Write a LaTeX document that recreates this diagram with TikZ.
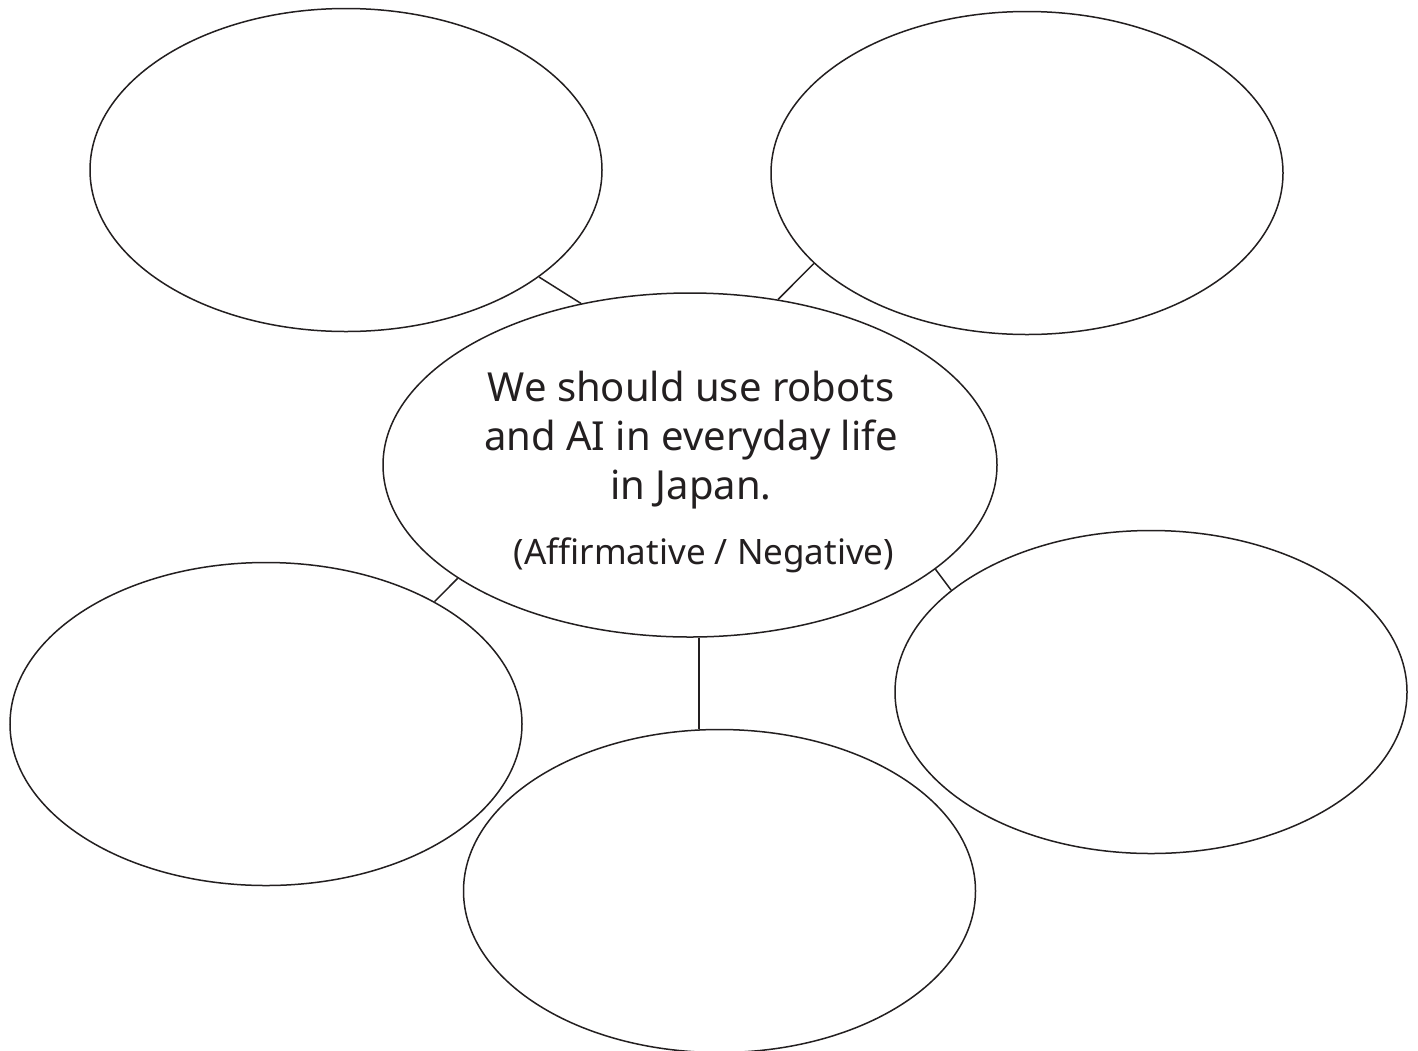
\documentclass[tikz,border=0pt]{standalone}
\usepackage{fontspec}
\setmainfont{Noto Sans}
\usetikzlibrary{shapes.geometric}
\definecolor{ink}{HTML}{231F20}
\begin{document}
\begin{tikzpicture}[x=1pt,y=-1pt,
  bubble/.style={ellipse,draw=ink,line width=1.5pt,inner sep=0pt,
    minimum width=512pt,minimum height=323pt},
  link/.style={draw=ink,line width=1.5pt},
  maintext/.style={text=ink,font=\fontsize{40}{49}\selectfont,align=center,inner sep=0pt},
  subtext/.style={text=ink,font=\fontsize{35}{40}\selectfont,inner sep=0pt}]
\useasboundingbox[fill=white] (0,0) rectangle (1418,1050);

% outer bubbles
\node[bubble] (tl) at (346,170) {};
\node[bubble] (tr) at (1027,173) {};
\node[bubble] (bl) at (266,724) {};
\node[bubble] (br) at (1151,692) {};
\node[bubble] (bc) at (719.5,891) {};

% central bubble with the motion
\node[bubble,minimum width=614pt,minimum height=344pt] (c) at (690,465) {};
\node[maintext] (motion) at (691,440) {We should use robots\\and AI in everyday life\\in Japan.};
\node[subtext] (side) at (704,555) {(Affirmative / Negative)};

% spokes
\draw[link] (tl.-29.5) -- (c.124.4);
\draw[link] (tr.203.8) -- (c.62.5);
\draw[link] (c.206) -- (bl.36.9);
\draw[link] (c.-23.9) -- (br.153.2);
\path (c.-87.3) coordinate (cb);
\draw[link] (cb) -- (cb |- bc.north);
\end{tikzpicture}
\end{document}
